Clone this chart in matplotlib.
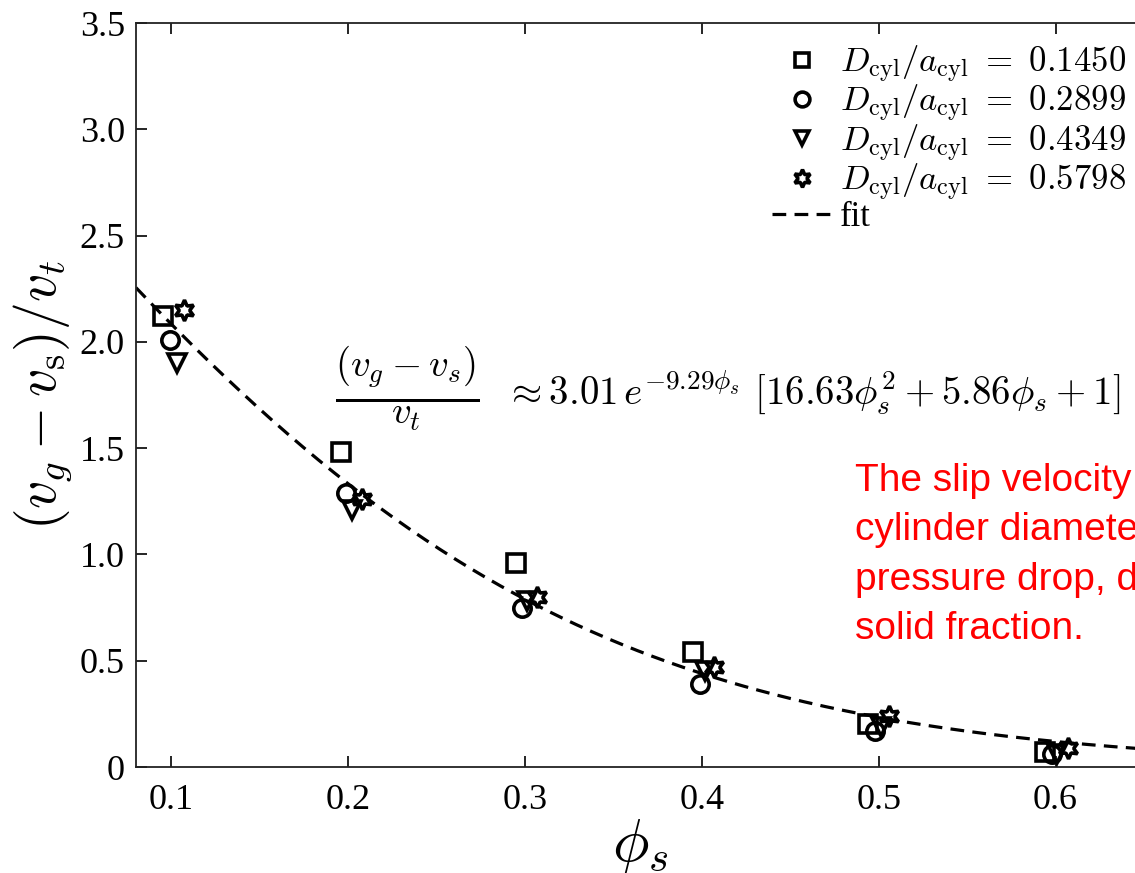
import matplotlib
matplotlib.use('Agg')
import matplotlib.pyplot as plt
import numpy as np

# measured points, one list pair per cylinder diameter ratio
LABELS = ['0.1450', '0.2899', '0.4349', '0.5798']
PHI = [
    [0.095, 0.196, 0.295, 0.395, 0.494, 0.594],
    [0.099, 0.199, 0.298, 0.399, 0.498, 0.598],
    [0.103, 0.202, 0.301, 0.402, 0.501, 0.601],
    [0.107, 0.208, 0.307, 0.407, 0.506, 0.607],
]
SLIP = [
    [2.12, 1.48, 0.96, 0.54, 0.20, 0.07],
    [2.01, 1.29, 0.75, 0.39, 0.17, 0.06],
    [1.90, 1.21, 0.78, 0.45, 0.19, 0.06],
    [2.15, 1.26, 0.80, 0.47, 0.24, 0.09],
]
MARKERS = ['s', 'o', 'v', (6, 1, 0)]

# coefficients of the fit printed on the chart
FIT_A = 3.01
FIT_K = 9.29
FIT_POLY = [16.63, 5.86, 1.0]

plt.rcParams['font.family'] = ['Liberation Serif', 'DejaVu Serif']
plt.rcParams['mathtext.fontset'] = 'cm'

fig = plt.figure(figsize=(11.35, 8.73), dpi=100)
W, H = 1135.0, 873.0
# the right end of the axes sits just past the picture edge
ax = fig.add_axes([136 / W, 106 / H, (1144 - 136) / W, 744 / H])

phi_fit = np.linspace(0.08, 0.65, 200)
slip_fit = FIT_A * np.exp(-FIT_K * phi_fit) * np.polyval(FIT_POLY, phi_fit)

for xs, ys, m, lab in zip(PHI, SLIP, MARKERS, LABELS):
    ms = 15 if m == (6, 1, 0) else 12.5
    ax.plot(xs, ys, linestyle='none', marker=m, ms=ms, mfc='none', mec='black',
            mew=2.6, label=r'$D_{\mathrm{cyl}}/a_{\mathrm{cyl}}\ =\ %s$' % lab, zorder=3)

ax.plot(phi_fit, slip_fit, color='black', lw=2.3, dashes=(4.3, 2.6), label='fit', zorder=2)

ax.set_xlim(0.08, 0.65)
ax.set_ylim(0, 3.5)
ax.set_xticks([0.1, 0.2, 0.3, 0.4, 0.5, 0.6])
ax.set_xticklabels(['0.1', '0.2', '0.3', '0.4', '0.5', '0.6'])
ax.set_yticks(np.arange(0, 3.51, 0.5))
ax.set_yticklabels(['0', '0.5', '1.0', '1.5', '2.0', '2.5', '3.0', '3.5'])
ax.tick_params(direction='in', length=8, width=1.2, labelsize=26, top=True)
ax.tick_params(axis='x', pad=12)
ax.tick_params(axis='y', pad=8)
for sp in ax.spines.values():
    sp.set_linewidth(1.3)
    sp.set_color('#222222')

ax.set_xlabel(r'$\phi_s$', fontsize=44, labelpad=0)
ax.set_ylabel(r'$(v_g - v_{\mathrm{s}})/v_t$', fontsize=40, labelpad=4)

# fit formula, fraction drawn a bit larger than the rest
fig.text(335 / W, 1 - 389 / H, r'$\frac{(v_g - v_s)}{v_t}$',
         fontsize=40, ha='left', va='center')
fig.text(505 / W, 1 - 392 / H,
         r'$\approx 3.01\,e^{-9.29\phi_s}\ [16.63\phi_s^2 + 5.86\phi_s + 1]$',
         fontsize=28, ha='left', va='center')

fig.legend(loc='upper left', bbox_to_anchor=(772 / W, 1 - 44 / H),
           bbox_transform=fig.transFigure, frameon=False, fontsize=25,
           borderpad=0, borderaxespad=0, labelspacing=-0.05, handlelength=1.75,
           handletextpad=0.2, markerscale=0.85)

fig.text(855 / W, 1 - 463 / H,
         'The slip velocity is independent of\ncylinder diameter and\n'
         'pressure drop, depends only on\nsolid fraction.',
         color='red', fontsize=28, family='Liberation Sans', ha='left', va='top',
         linespacing=1.48)

fig.savefig('out.png', dpi=100)
